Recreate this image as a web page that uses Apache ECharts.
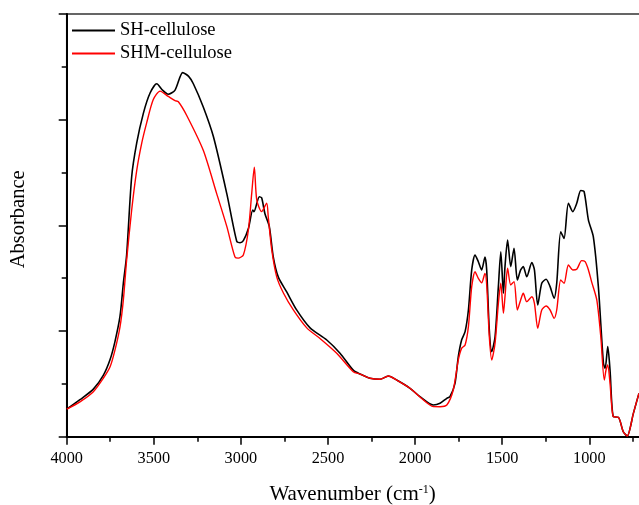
<!DOCTYPE html>
<html>
<head>
<meta charset="utf-8">
<script src="https://cdn.jsdelivr.net/npm/echarts@6/dist/echarts.min.js"></script>
<style>
html,body{margin:0;padding:0;overflow:hidden;background:#fff;width:639px;height:505px;}
#chart{width:700px;height:505px;}
</style>
</head>
<body>
<div id="chart"></div>
<script>
var seriesNames = ['SH-cellulose', 'SHM-cellulose'];
var xTicks = [4000, 3500, 3000, 2500, 2000, 1500, 1000];

var shWn = [4000,3924,3847,3790,3751,3723,3694,3675,3656,3627,3598,3560,3522,3483,3450,3417,3378,3334,3300,3273,3216,3158,3081,3024,3005,2986,2957,2932,2925,2894,2881,2862,2837,2814,2785,2737,2680,2603,2507,2431,2355,2316,2259,2201,2154,2106,2029,1972,1895,1857,1818,1800,1771,1752,1733,1713,1694,1675,1656,1637,1618,1599,1589,1574,1560,1541,1522,1508,1493,1484,1469,1451,1432,1413,1394,1379,1359,1330,1315,1296,1273,1248,1225,1202,1187,1164,1145,1120,1095,1072,1049,1030,1005,977,948,919,909,894,881,862,833,805,782,747,715];
var shAbs = [0.26,0.35,0.45,0.58,0.73,0.90,1.14,1.45,1.72,2.46,2.78,3.06,3.25,3.34,3.28,3.24,3.28,3.445,3.41,3.34,3.12,2.84,2.30,1.85,1.836,1.855,1.97,2.145,2.13,2.27,2.26,2.11,1.99,1.70,1.51,1.37,1.20,1.03,0.915,0.79,0.63,0.593,0.553,0.543,0.574,0.536,0.458,0.379,0.30,0.316,0.363,0.379,0.505,0.757,0.915,0.994,1.199,1.578,1.72,1.656,1.578,1.70,1.578,1.01,0.805,0.946,1.42,1.75,1.357,1.609,1.861,1.609,1.783,1.483,1.578,1.609,1.514,1.647,1.578,1.246,1.452,1.49,1.42,1.31,1.452,1.94,1.877,2.209,2.13,2.209,2.33,2.32,2.05,1.893,1.42,0.695,0.647,0.852,0.631,0.189,0.184,0.047,0.007,0.221,0.41];

var shmWn = [4000,3924,3847,3790,3751,3723,3694,3675,3656,3627,3598,3569,3541,3503,3464,3417,3378,3359,3311,3216,3139,3081,3034,3015,2986,2957,2938,2923,2909,2881,2852,2843,2823,2794,2756,2699,2622,2546,2450,2355,2316,2259,2201,2154,2106,2029,1972,1895,1857,1818,1781,1752,1733,1713,1694,1675,1656,1637,1618,1599,1589,1574,1560,1541,1522,1508,1493,1484,1469,1451,1432,1413,1394,1379,1359,1330,1315,1296,1273,1248,1225,1202,1187,1164,1145,1120,1095,1072,1044,1024,1005,987,957,934,914,904,894,881,862,833,805,782,747,715];
var shmAbs = [0.26,0.33,0.426,0.553,0.662,0.82,1.04,1.29,1.67,2.145,2.52,2.78,2.97,3.19,3.27,3.22,3.18,3.17,3.04,2.71,2.30,1.99,1.70,1.69,1.72,1.956,2.30,2.55,2.24,2.13,2.21,2.08,1.77,1.51,1.36,1.20,1.03,0.93,0.79,0.615,0.593,0.553,0.543,0.574,0.536,0.458,0.375,0.285,0.284,0.30,0.442,0.726,0.836,0.868,1.041,1.42,1.561,1.499,1.457,1.546,1.436,0.946,0.726,0.884,1.262,1.452,1.168,1.325,1.594,1.436,1.467,1.199,1.294,1.357,1.278,1.325,1.262,1.026,1.199,1.237,1.199,1.12,1.199,1.483,1.452,1.625,1.578,1.584,1.666,1.656,1.578,1.467,1.294,0.946,0.536,0.631,0.678,0.505,0.189,0.184,0.047,0.007,0.221,0.41];

function pairs(xs, ys){ return xs.map(function(x,i){ return [x, ys[i]]; }); }

var FONT = '"Liberation Serif","Times New Roman",serif';
var chart = echarts.init(document.getElementById('chart'), null, {renderer:'canvas'});
chart.setOption({
  animation: false,
  backgroundColor: '#fff',
  grid: {left: 66.7, top: 14, bottom: 68.3, right: 23.6, containLabel: false, outerBoundsMode: 'none',
    show: true, borderColor: '#333', borderWidth: 1.5, backgroundColor: 'transparent'},
  legend: {
    data: seriesNames,
    orient: 'vertical',
    left: 71, top: 21, padding: 0,
    itemWidth: 43, itemHeight: 14, itemGap: 4,
    itemStyle: {opacity: 0},
    textStyle: {fontFamily: FONT, fontSize: 18.5, color: '#000'}
  },
  xAxis: {
    type: 'value', inverse: true, min: 500, max: 4000, interval: 500,
    axisLine: {show: true, onZero: false, lineStyle: {color: '#000', width: 2}},
    axisTick: {show: true, inside: false, length: 8, lineStyle: {color: '#000', width: 1.5}},
    minorTick: {show: true, splitNumber: 2, length: 5, lineStyle: {color: '#000', width: 1.5}},
    splitLine: {show: false},
    axisLabel: {fontFamily: FONT, fontSize: 16.3, color: '#000', margin: 14,
      formatter: function(v){ return xTicks.indexOf(v) >= 0 ? String(v) : ''; }},
    name: 'Wavenumber (cm{sup|-1})',
    nameLocation: 'middle', nameGap: 47,
    nameTextStyle: {fontFamily: FONT, fontSize: 21, color: '#000', padding: [0, 38, 0, 0],
      rich: {sup: {fontFamily: FONT, fontSize: 12, color: '#000', verticalAlign: 'top', padding: [0, 0, 10, 0]}}}
  },
  yAxis: {
    type: 'value', min: 0, max: 4, interval: 1,
    axisLine: {show: true, onZero: false, lineStyle: {color: '#000', width: 2}},
    axisTick: {show: true, inside: false, length: 8, lineStyle: {color: '#000', width: 1.5}},
    minorTick: {show: true, splitNumber: 2, length: 5, lineStyle: {color: '#000', width: 1.5}},
    splitLine: {show: false},
    axisLabel: {show: false},
    name: 'Absorbance', nameLocation: 'middle', nameGap: 38, nameRotate: 90,
    nameTextStyle: {fontFamily: FONT, fontSize: 20.5, color: '#000', padding: [0, 0, 0, 12]}
  },
  series: [
    {name: seriesNames[0], type: 'line', data: pairs(shWn, shAbs), showSymbol: false, symbol: 'none',
      smooth: 0.25, lineStyle: {color: '#000', width: 1.6}, itemStyle: {color: '#000'}},
    {name: seriesNames[1], type: 'line', data: pairs(shmWn, shmAbs), showSymbol: false, symbol: 'none',
      smooth: 0.25, lineStyle: {color: '#ff0000', width: 1.4}, itemStyle: {color: '#ff0000'}}
  ]
});
</script>
</body>
</html>
